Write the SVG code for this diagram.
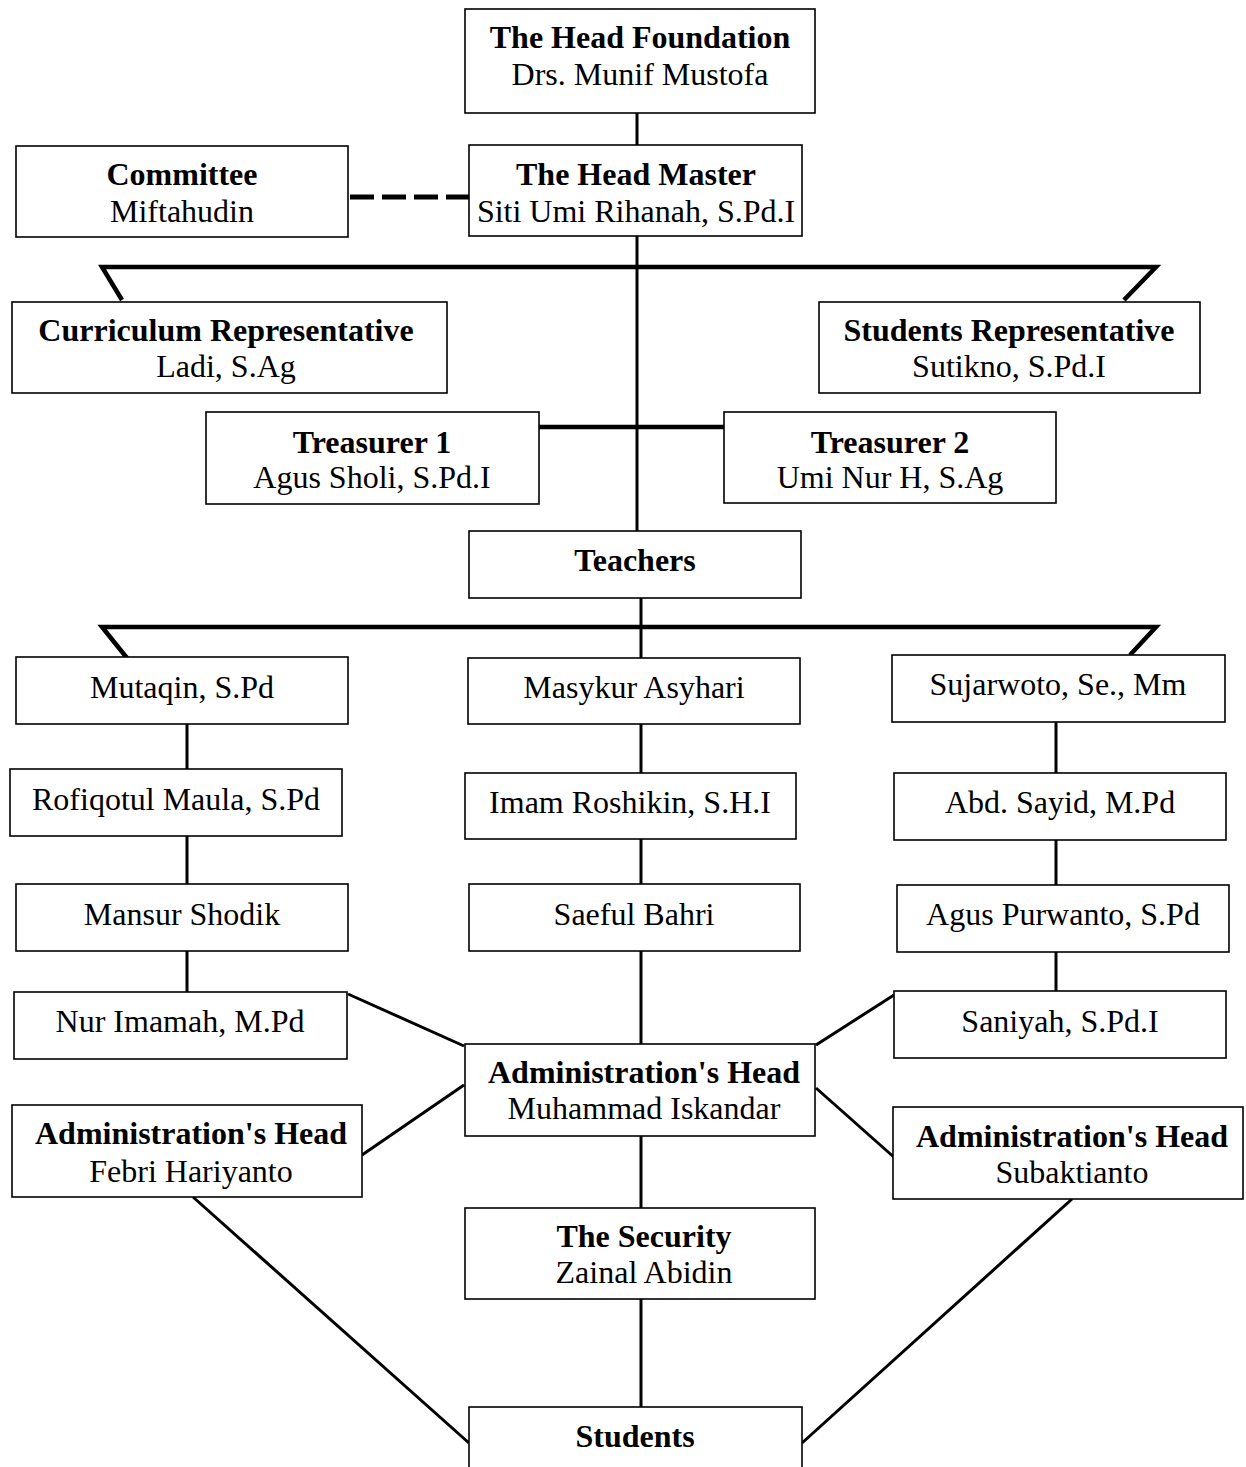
<svg xmlns="http://www.w3.org/2000/svg" width="1246" height="1467" viewBox="0 0 1246 1467">
<style>
.box{fill:#fff;stroke:#000;stroke-width:1.6}
.t{font-family:"Liberation Serif","Times New Roman",serif;font-size:32px;fill:#000;text-anchor:middle}
.b{font-weight:bold}
.ln{stroke:#000;stroke-width:3;fill:none}
.thick{stroke:#000;stroke-width:4.5;fill:none}
.dash{stroke:#000;stroke-width:5;stroke-dasharray:24 8;fill:none}
</style>
<rect width="1246" height="1467" fill="#fff"/>
<g id="connectors">
<line class="ln" x1="637" y1="113" x2="637" y2="145"/>
<line class="dash" x1="350" y1="197" x2="469" y2="197"/>
<line class="ln" x1="637" y1="236" x2="637" y2="531"/>
<polyline class="thick" points="122,300 102,267 1156,267 1124,300"/>
<line class="thick" x1="539" y1="427" x2="724" y2="427"/>
<line class="ln" x1="641" y1="598" x2="641" y2="658"/>
<polyline class="thick" points="127,658 102,627 1156,627 1130,655"/>
<line class="ln" x1="187" y1="724" x2="187" y2="769"/>
<line class="ln" x1="187" y1="836" x2="187" y2="884"/>
<line class="ln" x1="187" y1="951" x2="187" y2="992"/>
<line class="ln" x1="641" y1="724" x2="641" y2="773"/>
<line class="ln" x1="641" y1="839" x2="641" y2="884"/>
<line class="ln" x1="641" y1="951" x2="641" y2="1044"/>
<line class="ln" x1="1056" y1="722" x2="1056" y2="773"/>
<line class="ln" x1="1056" y1="840" x2="1056" y2="885"/>
<line class="ln" x1="1056" y1="952" x2="1056" y2="991"/>
<line class="ln" x1="348" y1="994" x2="464" y2="1046"/>
<line class="ln" x1="894" y1="995" x2="816" y2="1045"/>
<line class="ln" x1="464" y1="1085" x2="362" y2="1155"/>
<line class="ln" x1="816" y1="1088" x2="896" y2="1159"/>
<line class="ln" x1="641" y1="1136" x2="641" y2="1208"/>
<line class="ln" x1="641" y1="1299" x2="641" y2="1407"/>
<line class="ln" x1="193" y1="1197" x2="469" y2="1443"/>
<line class="ln" x1="1072" y1="1199" x2="802" y2="1443"/>
</g>
<g id="n-foundation"><rect class="box" x="465" y="9" width="350" height="104"/><text class="t b" x="640" y="48">The Head Foundation</text><text class="t" x="640" y="85">Drs. Munif Mustofa</text></g>
<g id="n-committee"><rect class="box" x="16" y="146" width="332" height="91"/><text class="t b" x="182" y="185">Committee</text><text class="t" x="182" y="222">Miftahudin</text></g>
<g id="n-headmaster"><rect class="box" x="469" y="145" width="333" height="91"/><text class="t b" x="636" y="185">The Head Master</text><text class="t" x="636" y="222">Siti Umi Rihanah, S.Pd.I</text></g>
<g id="n-curriculum"><rect class="box" x="12" y="302" width="435" height="91"/><text class="t b" x="226" y="341">Curriculum Representative</text><text class="t" x="226" y="377">Ladi, S.Ag</text></g>
<g id="n-studentsrep"><rect class="box" x="819" y="302" width="381" height="91"/><text class="t b" x="1009" y="341">Students Representative</text><text class="t" x="1009" y="377">Sutikno, S.Pd.I</text></g>
<g id="n-treasurer1"><rect class="box" x="206" y="412" width="333" height="92"/><text class="t b" x="372" y="453">Treasurer 1</text><text class="t" x="372" y="488">Agus Sholi, S.Pd.I</text></g>
<g id="n-treasurer2"><rect class="box" x="724" y="412" width="332" height="91"/><text class="t b" x="890" y="453">Treasurer 2</text><text class="t" x="890" y="488">Umi Nur H, S.Ag</text></g>
<g id="n-teachers"><rect class="box" x="469" y="531" width="332" height="67"/><text class="t b" x="635" y="571">Teachers</text></g>
<g id="n-mutaqin"><rect class="box" x="16" y="657" width="332" height="67"/><text class="t" x="182" y="698">Mutaqin, S.Pd</text></g>
<g id="n-masykur"><rect class="box" x="468" y="658" width="332" height="66"/><text class="t" x="634" y="698">Masykur Asyhari</text></g>
<g id="n-sujarwoto"><rect class="box" x="892" y="655" width="333" height="67"/><text class="t" x="1058" y="695">Sujarwoto, Se., Mm</text></g>
<g id="n-rofiqotul"><rect class="box" x="10" y="769" width="332" height="67"/><text class="t" x="176" y="810">Rofiqotul Maula, S.Pd</text></g>
<g id="n-imam"><rect class="box" x="465" y="773" width="331" height="66"/><text class="t" x="630" y="813">Imam Roshikin, S.H.I</text></g>
<g id="n-abd"><rect class="box" x="894" y="773" width="332" height="67"/><text class="t" x="1060" y="813">Abd. Sayid, M.Pd</text></g>
<g id="n-mansur"><rect class="box" x="16" y="884" width="332" height="67"/><text class="t" x="182" y="925">Mansur Shodik</text></g>
<g id="n-saeful"><rect class="box" x="469" y="884" width="331" height="67"/><text class="t" x="634" y="925">Saeful Bahri</text></g>
<g id="n-agus"><rect class="box" x="897" y="885" width="332" height="67"/><text class="t" x="1063" y="925">Agus Purwanto, S.Pd</text></g>
<g id="n-nurimamah"><rect class="box" x="14" y="992" width="333" height="67"/><text class="t" x="180" y="1032">Nur Imamah, M.Pd</text></g>
<g id="n-saniyah"><rect class="box" x="894" y="991" width="332" height="67"/><text class="t" x="1060" y="1032">Saniyah, S.Pd.I</text></g>
<g id="n-admin-center"><rect class="box" x="465" y="1044" width="350" height="92"/><text class="t b" x="644" y="1083">Administration's Head</text><text class="t" x="644" y="1119">Muhammad Iskandar</text></g>
<g id="n-admin-left"><rect class="box" x="12" y="1105" width="350" height="92"/><text class="t b" x="191" y="1144">Administration's Head</text><text class="t" x="191" y="1182">Febri Hariyanto</text></g>
<g id="n-admin-right"><rect class="box" x="893" y="1107" width="350" height="92"/><text class="t b" x="1072" y="1147">Administration's Head</text><text class="t" x="1072" y="1183">Subaktianto</text></g>
<g id="n-security"><rect class="box" x="465" y="1208" width="350" height="91"/><text class="t b" x="644" y="1247">The Security</text><text class="t" x="644" y="1283">Zainal Abidin</text></g>
<g id="n-students"><rect class="box" x="469" y="1407" width="333" height="70"/><text class="t b" x="635" y="1447">Students</text></g>
</svg>
